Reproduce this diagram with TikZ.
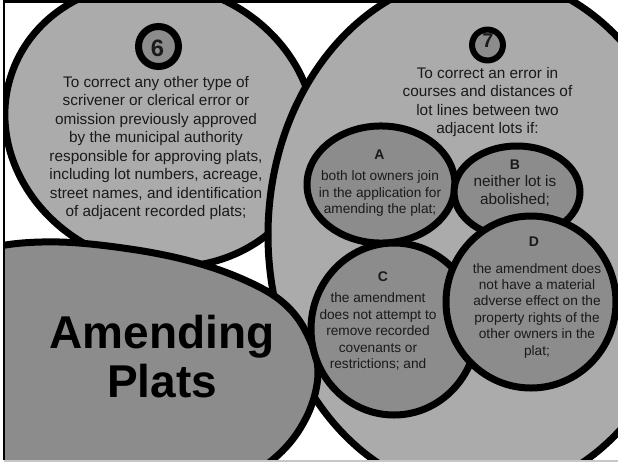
\documentclass[tikz,border=0pt]{standalone}
\usepackage{fontspec}
\setmainfont{Liberation Sans}
\definecolor{lg}{RGB}{171,171,171}
\definecolor{dg}{RGB}{140,140,140}
\definecolor{tx}{RGB}{26,26,26}
\begin{document}
\begin{tikzpicture}[x=0.75pt,y=-0.75pt,
  shapeline/.style={draw=black,line width=5.25pt},
  lightshape/.style={shapeline,fill=lg},
  darkshape/.style={shapeline,fill=dg},
  badge/.style={draw=black,fill=dg},
  bodytext/.style={text=tx,align=center,inner sep=0pt},
  bigtext/.style={bodytext,font=\fontsize{11.5pt}{13.9pt}\selectfont},
  midtext/.style={bodytext,font=\fontsize{11.5pt}{13.7pt}\selectfont},
  smalltext/.style={bodytext,font=\fontsize{10.25pt}{12.4pt}\selectfont},
  letter/.style={text=tx,inner sep=0pt,font=\fontsize{10.5pt}{12pt}\selectfont\bfseries}]
\useasboundingbox (0,0) rectangle (618,462);
\begin{scope}
\clip (4,0) rectangle (618,460);
% ellipse 6
\draw[lightshape, rotate around={-20:(160,125)}] (160,125) ellipse [x radius=117.75pt, y radius=105pt];
% ellipse 7
\draw[lightshape] (480,235) ellipse [x radius=159pt, y radius=195pt];
% Amending Plats shape
\draw[darkshape] plot[smooth cycle, tension=0.6] coordinates {(-40,262) (0,246) (60,242) (130,249) (190,261) (240,278) (280,300) (305,330) (318,372) (305,420) (270,462) (200,505) (80,520) (-40,480) (-80,370)};
% inner shapes
\draw[darkshape] (381,184.5) ellipse [x radius=55.5pt, y radius=43.9pt];
\draw[darkshape] (517,192) ellipse [x radius=47.25pt, y radius=34.5pt];
\draw[darkshape] (394,329) ellipse [x radius=62.25pt, y radius=64.5pt];
\draw[darkshape] (531,302) ellipse [x radius=63.75pt, y radius=64.5pt];
% badges
\draw[badge, line width=5.25pt] (158.5,46.5) circle [radius=15pt];
\draw[badge, line width=4.5pt] (487.5,45) circle [radius=11.6pt];
\end{scope}
% frame
\draw[line width=1.7pt] (3.8,0) -- (3.8,460);
\draw[line width=2pt] (3.8,1.3) -- (577,1.3);
\draw[color=black!22, line width=1.5pt] (3.8,461) -- (618,461);
% texts
\node[text=tx,inner sep=0pt,font=\fontsize{17.8pt}{20pt}\selectfont\bfseries] (n6) at (157.5,48.5) {6};
\node[text=tx,inner sep=0pt,font=\fontsize{15pt}{18pt}\selectfont\bfseries] (n7) at (488,40.5) {7};
\node[bigtext] (t6) at (156,148) {To correct any other type of\\scrivener or clerical error or\\omission previously approved\\by the municipal authority\\responsible for approving plats,\\including lot numbers, acreage,\\street names, and identification\\of adjacent recorded plats;};
\node[midtext] (t7) at (487.5,102) {To correct an error in\\courses and distances of\\lot lines between two\\adjacent lots if:};
\node[letter] (la) at (379.5,155) {A};
\node[smalltext] (ta) at (380,193.5) {both lot owners join\\in the application for\\amending the plat;};
\node[letter] (lb) at (515,165) {B};
\node[bodytext,font=\fontsize{11.5pt}{13.5pt}\selectfont] (tb) at (515,191) {neither lot is\\abolished;};
\node[letter] (lc) at (383,277) {C};
\node[smalltext] (tc) at (378,331.5) {the amendment\\does not attempt to\\remove recorded\\covenants or\\restrictions; and};
\node[letter] (ld) at (534,242) {D};
\node[smalltext,font=\fontsize{10.25pt}{12.3pt}\selectfont] (td) at (537,310.5) {the amendment does\\not have a material\\adverse effect on the\\property rights of the\\other owners in the\\plat;};
\node[text=black,align=center,inner sep=0pt,font=\fontsize{34.5pt}{36.75pt}\selectfont\bfseries] (tam) at (162,357) {Amending\\Plats};
\end{tikzpicture}
\end{document}
